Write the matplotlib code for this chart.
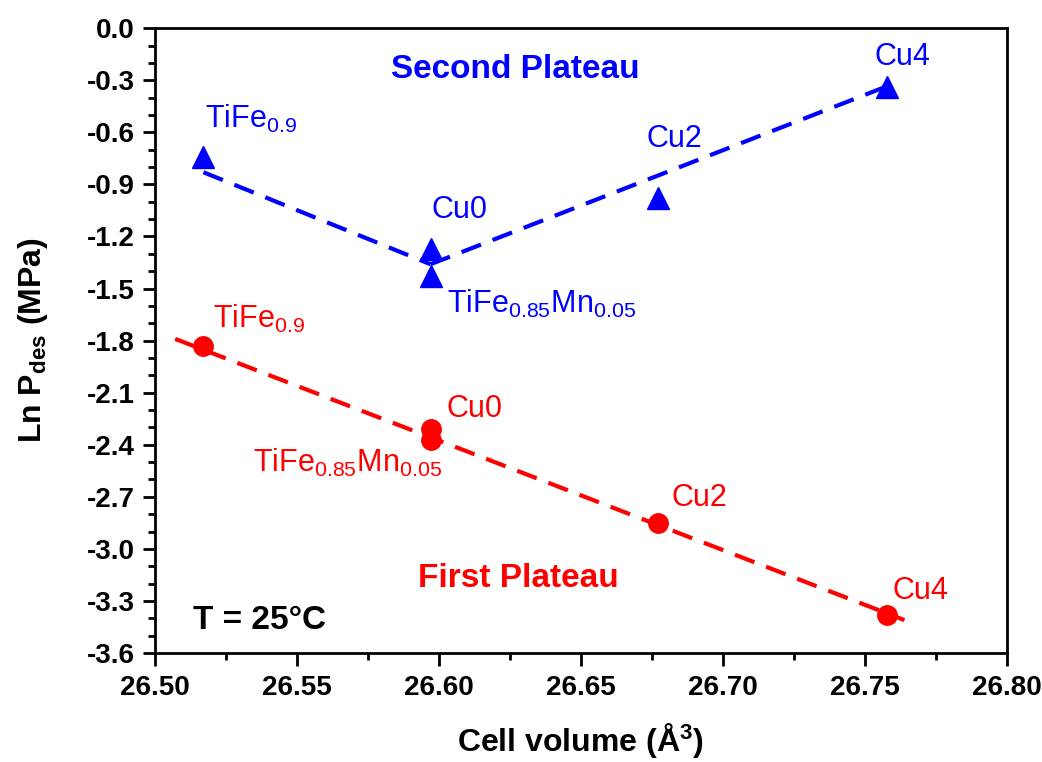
import matplotlib.pyplot as plt
from matplotlib.ticker import MultipleLocator

plt.rcParams['font.family'] = ['Liberation Sans', 'DejaVu Sans']
plt.rcParams['mathtext.fontset'] = 'custom'
plt.rcParams['mathtext.rm'] = 'Liberation Sans'
plt.rcParams['mathtext.bf'] = 'Liberation Sans:bold'

# cell volume (A^3) for each sample
names = ['TiFe0.9', 'Cu0', 'TiFe0.85Mn0.05', 'Cu2', 'Cu4']
volume = [26.517, 26.597, 26.597, 26.677, 26.758]

# ln P_des (MPa)
second = [-0.74, -1.27, -1.43, -0.98, -0.34]
first = [-1.83, -2.31, -2.37, -2.85, -3.38]

# dashed guide lines
blue_fit1_x = [26.517, 26.597]
blue_fit1_y = [-0.83, -1.36]
blue_fit2_x = [26.597, 26.757]
blue_fit2_y = [-1.36, -0.34]
red_fit_x = [26.507, 26.764]
red_fit_y = [-1.79, -3.41]

labels = [r'TiFe$_{0.9}$', 'Cu0', r'TiFe$_{0.85}$Mn$_{0.05}$', 'Cu2', 'Cu4']

fig = plt.figure(figsize=(10.42, 7.62), dpi=100)
ax = fig.add_axes([0.149, 0.143, 0.817, 0.820])

dash = (5, 3)
ax.plot(blue_fit1_x, blue_fit1_y, color='blue', lw=3, dashes=dash)
ax.plot(blue_fit2_x, blue_fit2_y, color='blue', lw=3, dashes=dash)
ax.plot(red_fit_x, red_fit_y, color='red', lw=3, dashes=dash)
ax.plot(volume, second, '^', color='blue', ms=16, ls='none')
ax.plot(volume, first, 'o', color='red', ms=14, ls='none')

# point labels (offsets in points, text baseline)
blue_off = [(1, 21), (1, 22), (12, -26), (-8, 37), (-9, 16)]
red_off = [(6.5, 13), (11.5, 9), (-128, -23), (10, 12), (4, 11.5)]
for i in range(len(names)):
    ax.annotate(labels[i], (volume[i], second[i]), xytext=blue_off[i],
                textcoords='offset points', color='blue', fontsize=22)
    ax.annotate(labels[i], (volume[i], first[i]), xytext=red_off[i],
                textcoords='offset points', color='red', fontsize=22)

ax.text(26.627, -0.236, 'Second Plateau', color='blue', fontsize=24,
        fontweight='bold', ha='center', va='center')
ax.text(26.628, -3.168, 'First Plateau', color='red', fontsize=24,
        fontweight='bold', ha='center', va='center')
ax.text(26.5134, -3.41, 'T = 25°C', color='black', fontsize=24,
        fontweight='bold', ha='left', va='center')

ax.set_xlim(26.50, 26.80)
ax.set_ylim(-3.6, 0.0)
ax.xaxis.set_major_locator(MultipleLocator(0.05))
ax.xaxis.set_minor_locator(MultipleLocator(0.025))
ax.yaxis.set_major_locator(MultipleLocator(0.3))
ax.yaxis.set_minor_locator(MultipleLocator(0.1))
ax.xaxis.set_major_formatter(plt.FormatStrFormatter('%.2f'))
ax.yaxis.set_major_formatter(plt.FormatStrFormatter('%.1f'))
ax.tick_params(which='both', direction='out', width=2, labelsize=20)
ax.tick_params(which='major', length=9)
ax.tick_params(which='minor', length=5)
ax.tick_params(axis='y', which='major', pad=6)
ax.tick_params(axis='x', which='major', pad=7)
for lab in ax.get_xticklabels() + ax.get_yticklabels():
    lab.set_fontweight('bold')
for s in ax.spines.values():
    s.set_linewidth(2)

ax.set_xlabel(r'Cell volume ($\mathbf{\AA^3}$)', fontsize=23, fontweight='bold', labelpad=14)
ax.set_ylabel(r'Ln P$_{\mathbf{des}}$ (MPa)', fontsize=23, fontweight='bold', labelpad=26)

fig.savefig('out.png', dpi=100)
